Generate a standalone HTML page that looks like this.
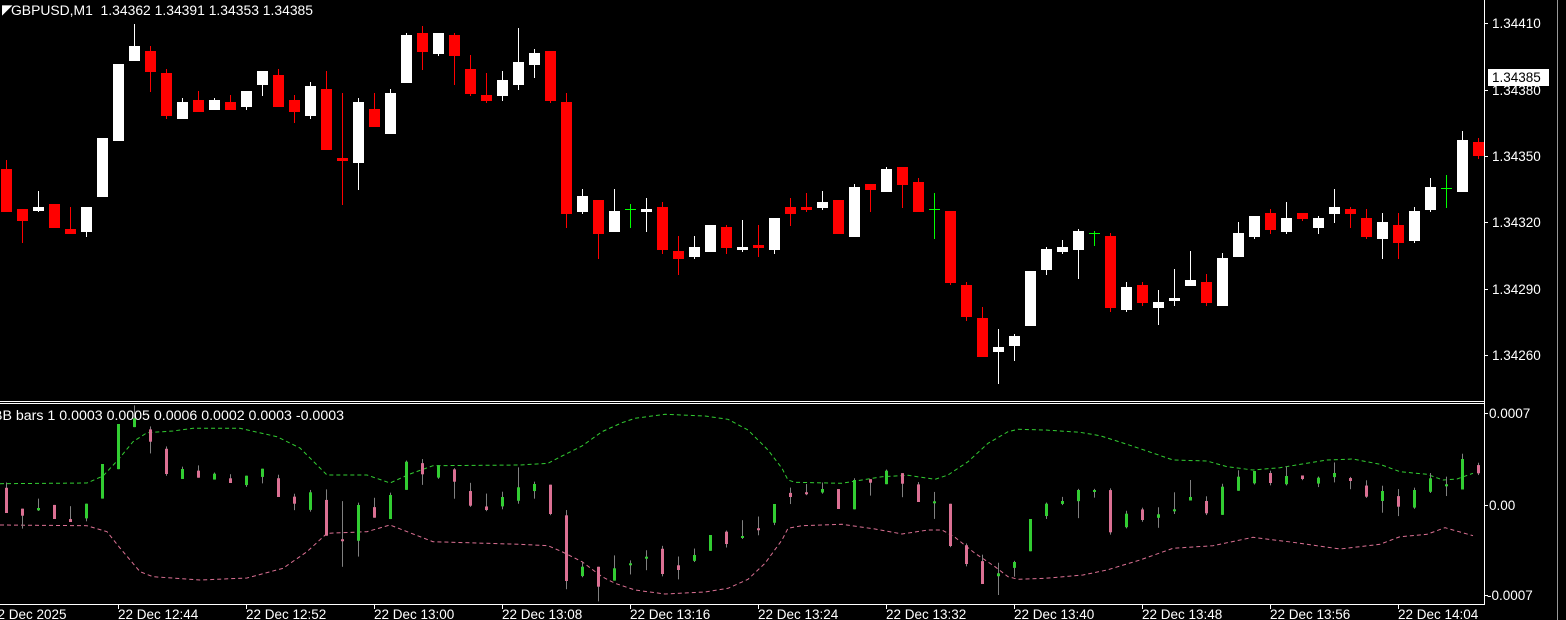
<!DOCTYPE html>
<html><head><meta charset="utf-8"><style>
html,body{margin:0;padding:0;background:#000;width:1566px;height:620px;overflow:hidden}
svg{display:block}
text{font-family:"Liberation Sans",sans-serif;font-size:13.5px;fill:#fff}
</style></head><body>
<svg id="s" width="1566" height="620" xmlns="http://www.w3.org/2000/svg">
<rect width="1566" height="620" fill="#000"/>
<g id="c"></g>
<line x1="0" y1="401.5" x2="1484" y2="401.5" stroke="#fff"/>
<line x1="0" y1="403.5" x2="1484" y2="403.5" stroke="#fff"/>
<line x1="0" y1="604.5" x2="1484" y2="604.5" stroke="#fff"/>
<line x1="1484.5" y1="0" x2="1484.5" y2="605" stroke="#fff"/>
<line x1="1557.5" y1="0" x2="1557.5" y2="620" stroke="#999"/>
<text x="2" y="14" font-size="9">◤</text>
<text x="11" y="15" textLength="302" lengthAdjust="spacingAndGlyphs" xml:space="preserve">GBPUSD,M1  1.34362 1.34391 1.34353 1.34385</text>
<text x="-7" y="420" textLength="351" lengthAdjust="spacingAndGlyphs">BB bars 1 0.0003 0.0005 0.0006 0.0002 0.0003 -0.0003</text>
<g id="ax"></g>
<text x="1492" y="28">1.34410</text>
<text x="1492" y="95">1.34380</text>
<text x="1492" y="161">1.34350</text>
<text x="1492" y="227">1.34320</text>
<text x="1492" y="294">1.34290</text>
<text x="1492" y="360">1.34260</text>
<rect x="1488" y="69" width="61" height="17" fill="#fff"/>
<text x="1492" y="82" style="fill:#000">1.34385</text>
<text x="1489" y="418">0.0007</text>
<text x="1489" y="510">0.00</text>
<text x="1487" y="600">-0.0007</text>
<text x="-10" y="619">22 Dec 2025</text>
<text x="118" y="619">22 Dec 12:44</text>
<text x="246" y="619">22 Dec 12:52</text>
<text x="374" y="619">22 Dec 13:00</text>
<text x="502" y="619">22 Dec 13:08</text>
<text x="630" y="619">22 Dec 13:16</text>
<text x="758" y="619">22 Dec 13:24</text>
<text x="886" y="619">22 Dec 13:32</text>
<text x="1014" y="619">22 Dec 13:40</text>
<text x="1142" y="619">22 Dec 13:48</text>
<text x="1270" y="619">22 Dec 13:56</text>
<text x="1398" y="619">22 Dec 14:04</text>
</svg>
<script>
var M=[[160,169,212,212,'r'],[209,209,221,243,'r'],[191,207,211,212,'w'],[204,204,228,228,'r'],[207,229,234,234,'r'],[207,207,232,237,'w'],[138,138,197,197,'w'],[64,64,141,141,'w'],[24,46,61,61,'w'],[46,51,72,92,'r'],
[69,73,116,119,'r'],[98,102,119,119,'w'],[91,100,112,112,'r'],[98,100,110,110,'w'],[95,102,110,110,'r'],[91,91,107,110,'w'],[71,71,85,96,'w'],[69,75,107,107,'r'],[95,100,112,123,'r'],[82,86,116,119,'w'],
[71,89,150,150,'r'],[93,158,161,205,'r'],[98,102,163,190,'w'],[93,109,127,127,'r'],[89,93,134,134,'w'],[33,35,83,83,'w'],[26,33,52,70,'r'],[33,33,54,56,'w'],[33,35,56,85,'r'],[55,69,94,96,'r'],
[73,95,101,103,'r'],[71,80,96,101,'w'],[28,62,85,90,'w'],[49,53,65,78,'w'],[51,51,101,103,'r'],[93,102,214,228,'r'],[189,196,212,214,'w'],[200,200,234,259,'r'],[189,211,232,232,'w'],[204,209,210,228,'g'],
[198,209,212,232,'w'],[202,207,250,254,'r'],[236,251,259,275,'r'],[236,247,257,259,'w'],[225,225,252,252,'w'],[225,227,248,254,'r'],[220,247,250,252,'w'],[225,245,248,257,'r'],[218,218,250,254,'w'],[198,207,214,226,'r'],
[193,207,210,212,'r'],[191,202,208,210,'w'],[200,200,234,234,'r'],[184,187,237,237,'w'],[184,184,190,212,'r'],[167,169,192,192,'w'],[167,167,185,208,'r'],[178,182,212,212,'r'],[193,209,210,239,'g'],[211,211,283,285,'r'],
[282,285,317,321,'r'],[307,318,357,357,'r'],[329,347,352,384,'w'],[334,336,346,361,'w'],[271,271,326,326,'w'],[247,249,270,275,'w'],[240,247,252,254,'w'],[229,231,250,279,'w'],[231,233,234,246,'g'],[233,236,308,312,'r'],
[282,287,310,312,'w'],[282,285,303,306,'r'],[290,302,308,325,'w'],[269,298,301,306,'w'],[251,280,286,286,'w'],[274,282,303,306,'r'],[253,258,306,306,'w'],[222,233,257,257,'w'],[216,216,237,239,'w'],[209,213,230,234,'r'],
[202,218,232,234,'w'],[213,213,219,221,'r'],[216,218,228,234,'w'],[189,207,214,223,'w'],[207,209,214,228,'r'],[209,218,237,239,'r'],[213,222,239,259,'w'],[213,225,243,259,'r'],[207,211,241,243,'w'],[178,187,210,212,'w'],
[175,188,189,208,'g'],[131,140,192,192,'w'],[138,142,156,159,'r']];
var IC=[513,515.7,508,519,522,503.7,464,424,418.3,441.7,474,469,477.7,473.7,483,475.7,468.7,497,503.7,492.3,535.7,541,505,517.7,495,461.7,474.3,465.3,481.7,505.7,510,497,487.3,
484,514,581,566.7,586.7,568.3,563.3,556.7,574,570,555,535,544,536,530,504,497,494,489,509,480,482.7,470.7,483.7,502,501.3,546,564,584,573.3,562,519,
503.7,501,490,490,532.3,513.7,520,514.3,509.3,497,513.3,486.7,476.7,471,483,476,479,477.7,473,481,496.7,491,506.7,490,478.3,484.3,459,473.3];
var U=[[0,483.7],[87,483],[103,476],[118,460],[133,441.7],[147,432.7],[173,431],[193,428.3],[240,428.3],[277,436.7],[300,448],[327,475],[367,475],[390,483],[410,474],[433,465.7],[520,465],[548,463.3],[562,456],[582,446],[602,431.7],[622,422.7],[635,418.3],[665,414.3],[705,416],[728,419.3],[748,430],[768,450],[782,468.3],[788,480],[795,482.3],[842,483.3],[882,476.7],[908,475.3],[935,479.3],[948,475],[968,461.7],[988,443.3],[1008,431.7],[1018,429.3],[1045,430],[1080,432.3],[1100,435.7],[1127,444.3],[1147,451],[1173,460],[1207,461],[1227,466.7],[1253,470],[1280,467.7],[1327,460],[1353,459],[1380,464.3],[1400,471.7],[1427,474.3],[1443,480],[1457,479],[1473,473.3]];
var L=[[0,525],[87,525.7],[107,531.7],[120,548],[140,571.7],[153,576.7],[200,580],[247,578],[283,568.3],[307,551.7],[327,533.3],[367,531.7],[390,525],[433,541.7],[520,544.3],[548,545.7],[562,551.7],[582,561.7],[602,576.7],[615,583.3],[635,590],[665,594],[705,592],[728,588.3],[748,579.3],[765,563.3],[782,540],[788,528.3],[802,525.7],[842,524.3],[875,529],[902,534],[928,530],[942,530],[955,537.3],[975,553.3],[995,566.7],[1008,576.7],[1018,579.3],[1045,578.3],[1083,575],[1107,570],[1140,560],[1173,548.3],[1213,545.7],[1253,537.3],[1293,542.3],[1340,549],[1380,544.3],[1400,536.7],[1427,534.3],[1445,527.7],[1473,535.7]];
var h='',k=13/22.17;
function r(x,y,w,hh,c){h+='<rect x="'+x+'" y="'+y+'" width="'+w+'" height="'+Math.max(hh,1)+'" fill="'+c+'"/>';}
function pl(p,c){h+='<polyline points="'+p.map(function(a){return a.join(',')}).join(' ')+'" fill="none" stroke="'+c+'" stroke-width="1" stroke-dasharray="4,3"/>';}
pl(U,'#32cd32');pl(L,'#db7093');
M.forEach(function(m,i){
 var cx=6+16*i,col=m[4]=='r'?'#ff0000':(m[4]=='g'?'#00ff00':'#ffffff');
 r(cx,m[0],1,m[3]-m[0],col);
 if(m[4]=='g'){r(cx-5,m[1],11,1,col);} else r(cx-5,m[1],11,m[2]-m[1],col);
 var cl=(m[4]=='r')?m[2]:m[1],ic=IC[i];
 function f(v){return ic+(v-cl)*k;}
 var ic2=(m[4]=='r')?'#db7093':'#32cd32';
 r(cx,f(m[0]),1,f(m[3])-f(m[0]),'#808080');
 r(cx-1,f(m[1]),3,Math.max(f(m[2])-f(m[1]),2),ic2);
});
var ax='';
[23,90,156,222,289,355].forEach(function(y){ax+='<line x1="1484" y1="'+(y+.5)+'" x2="1488" y2="'+(y+.5)+'" stroke="#fff"/>';});
[413,505,595].forEach(function(y){ax+='<line x1="1484" y1="'+(y+.5)+'" x2="1488" y2="'+(y+.5)+'" stroke="#fff"/>';});
for(var t=118;t<1484;t+=128)ax+='<line x1="'+(t+.5)+'" y1="605" x2="'+(t+.5)+'" y2="609" stroke="#fff"/>';
document.getElementById('c').innerHTML=h;
document.getElementById('ax').innerHTML=ax;
</script>
</body></html>
